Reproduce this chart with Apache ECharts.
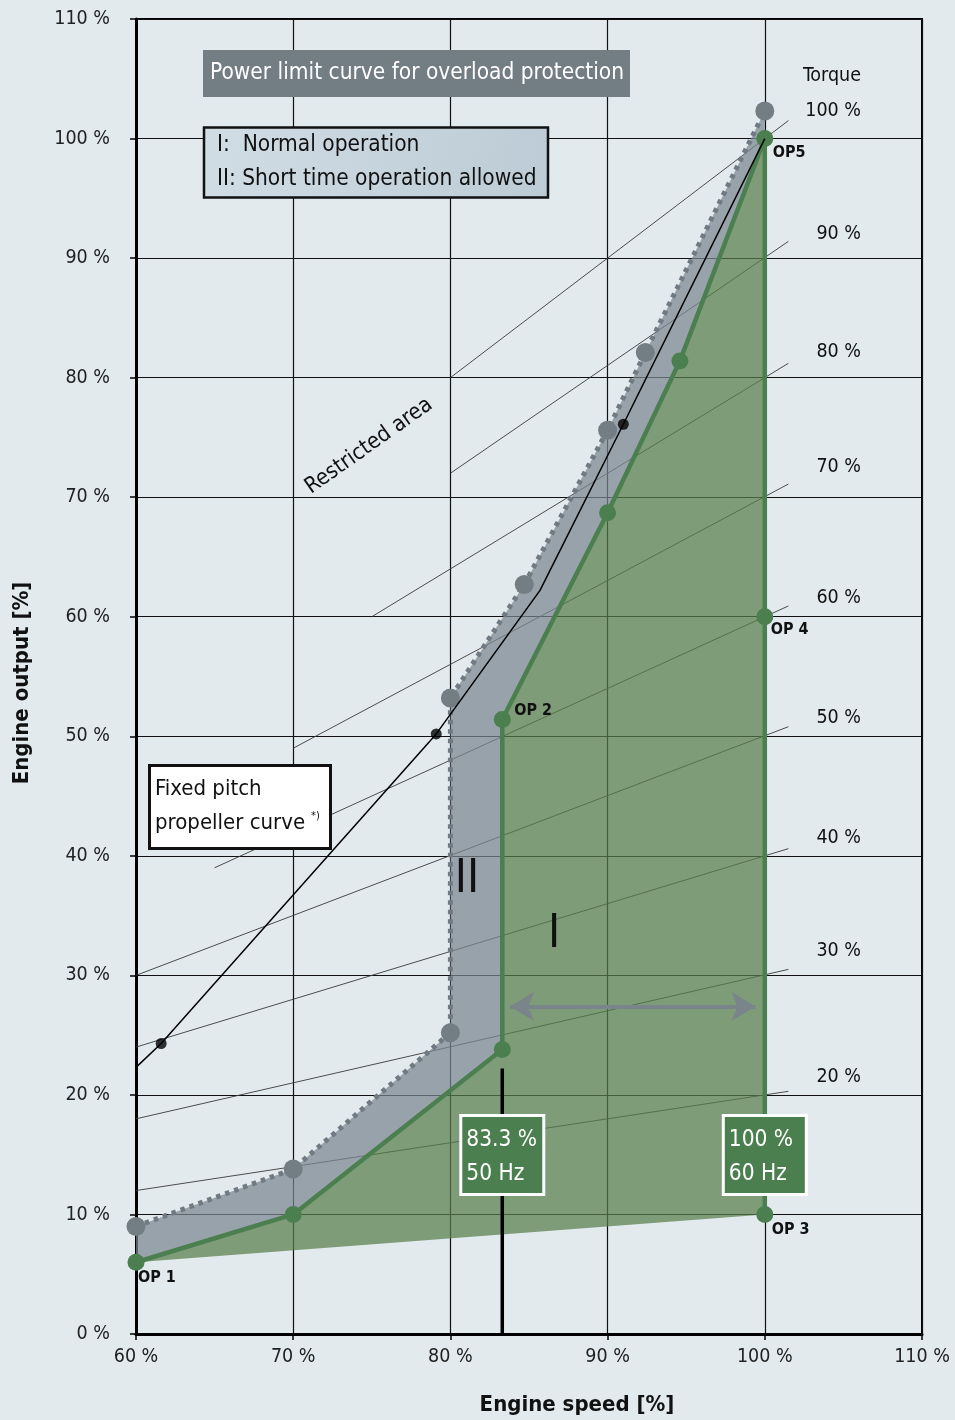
<!DOCTYPE html>
<html>
<head>
<meta charset="utf-8">
<script src="https://cdn.jsdelivr.net/npm/echarts@6/dist/echarts.min.js"></script>
<style>
  html, body { margin: 0; padding: 0; background: #e3eaee; }
  #chart { width: 955px; height: 1420px; }
</style>
</head>
<body>
<div id="chart"></div>
<script>
// ---- data: engine speed [%] vs. engine output [%] ----
const speedRange = [60, 110];
const outputRange = [0, 110];

// Area I (normal operation): OP1 -> ... -> OP5 -> OP4 -> OP3
const areaI = [[60, 6], [70, 10], [83.3, 23.8], [83.3, 51.4], [90, 68.7], [94.6, 81.4], [100, 100], [100, 60], [100, 10]];
// Upper limit of area II (short time operation)
const limitII = [[60, 9], [70, 13.8], [80, 25.2], [80, 53.2], [84.7, 62.7], [90, 75.6], [92.4, 82.1], [100, 102.3]];
// Fixed pitch propeller curve
const propellerCurve = [[60, 22.3], [61.6, 24.3], [79.1, 50.2], [85.7, 62.2], [91.0, 76.1], [100, 100]];
const propellerDots = [[61.6, 24.3], [79.1, 50.2], [91.0, 76.1]];
// 50 Hz speed marker below OP2
const speed50Hz = [[83.3, 0], [83.3, 22.2]];
// Speed range arrow between 50 Hz and 60 Hz
const speedArrow = [[83.8, 27.4], [99.4, 27.4]];
// Constant torque lines
const torqueLabels = ['100 %', '90 %', '80 %', '70 %', '60 %', '50 %', '40 %', '30 %', '20 %'];
const torqueLines = [
  [[80, 80], [101.5, 101.5]],
  [[80, 72], [101.5, 91.4]],
  [[75, 60], [101.5, 81.2]],
  [[70, 49], [101.5, 71.1]],
  [[65, 39], [101.5, 60.9]],
  [[60, 30], [101.5, 50.8]],
  [[60, 24], [101.5, 40.6]],
  [[60, 18], [101.5, 30.5]],
  [[60, 12], [101.5, 20.3]]
];
// Operating point names and the point they belong to
const opNames = ['OP 1', 'OP 2', 'OP 3', 'OP 4', 'OP5'];
const opPoints = [[60, 6], [83.3, 51.4], [100, 10], [100, 60], [100, 100]];
const speedBoxes = [['83.3 %', '50 Hz'], ['100 %', '60 Hz']];
const speedBoxAt = [83.3, 100];

// ---- styling ----
const FONT = "'DejaVu Sans Condensed', 'DejaVu Sans', sans-serif";
const GREEN = '#4b7f4f';
const GRAY = '#737d84';
const opLabelOffsets = [[2, 16], [12, -9], [7, 15], [6, 13], [8, 14]];
const torqueLabelLift = [10, 7, 11, 17, 8, 9, 11, 18, 14];

function polygonSeries(points, fill, z) {
  return {
    type: 'custom',
    coordinateSystem: 'cartesian2d',
    silent: true,
    z: z,
    data: [0],
    renderItem: function (params, api) {
      return {
        type: 'polygon',
        shape: { points: points.map(function (p) { return api.coord(p); }) },
        style: { fill: fill }
      };
    }
  };
}

const grayPolygon = limitII.concat([[100, 100]], areaI.slice(0, 6).reverse());

const axisCommon = {
  type: 'value',
  interval: 10,
  axisLine: { show: true, lineStyle: { color: '#000', width: 3 } },
  axisTick: { show: true, length: 6, lineStyle: { color: '#000', width: 1.5 } },
  splitLine: { show: true, lineStyle: { color: '#111', width: 1.2 } },
  axisLabel: {
    formatter: '{value} %',
    color: '#222',
    fontFamily: FONT,
    fontSize: 19.5
  }
};

const option = {
  backgroundColor: '#e3eaee',
  animation: false,
  grid: {
    left: 136, right: 33, top: 19, bottom: 86,
    show: true, borderColor: '#000', borderWidth: 2, backgroundColor: 'transparent'
  },
  xAxis: Object.assign({}, axisCommon, {
    min: speedRange[0], max: speedRange[1],
    axisLabel: Object.assign({}, axisCommon.axisLabel, { margin: 13 })
  }),
  yAxis: Object.assign({}, axisCommon, {
    min: outputRange[0], max: outputRange[1],
    axisLabel: Object.assign({}, axisCommon.axisLabel, { margin: 26 })
  }),
  series: [
    {
      type: 'lines',
      coordinateSystem: 'cartesian2d',
      silent: true,
      z: 1,
      lineStyle: { color: '#3a3a3a', width: 0.9, opacity: 1 },
      data: torqueLines.map(function (c) { return { coords: c }; })
    },
    polygonSeries(grayPolygon, 'rgba(123,135,144,0.72)', 2),
    polygonSeries(areaI, 'rgba(88,126,74,0.72)', 2),
    {
      type: 'line',
      data: limitII,
      silent: true,
      z: 3,
      lineStyle: { color: '#6f7a82', width: 5, type: [4.5, 5] },
      symbol: 'circle',
      symbolSize: 19,
      itemStyle: { color: GRAY }
    },
    {
      type: 'line',
      data: areaI,
      silent: true,
      z: 4,
      lineStyle: { color: GREEN, width: 4.5 },
      symbol: 'circle',
      symbolSize: 17,
      itemStyle: { color: GREEN }
    },
    {
      type: 'line',
      data: propellerCurve,
      silent: true,
      z: 5,
      symbol: 'none',
      lineStyle: { color: '#000', width: 1.5 }
    },
    {
      type: 'scatter',
      data: propellerDots,
      silent: true,
      z: 5,
      symbolSize: 11,
      itemStyle: { color: '#000' }
    },
    {
      type: 'line',
      data: speed50Hz,
      silent: true,
      z: 5,
      symbol: 'none',
      lineStyle: { color: '#000', width: 3.5 }
    },
    {
      type: 'line',
      data: [],
      silent: true,
      z: 6,
      markLine: {
        silent: true,
        symbol: ['arrow', 'arrow'],
        symbolSize: [22, 24],
        label: { show: false },
        lineStyle: { color: '#7a848b', width: 4, type: 'solid' },
        data: [[{ coord: speedArrow[0] }, { coord: speedArrow[1] }]]
      }
    }
  ]
};

const chart = echarts.init(document.getElementById('chart'));
chart.setOption(option);

function px(p) { return chart.convertToPixel({ gridIndex: 0 }, p); }
function txt(x, y, text, extra) {
  return {
    type: 'text', x: x, y: y, z: 100, silent: true,
    style: Object.assign({ text: text, fontFamily: FONT, fontSize: 22.5, fill: '#111', align: 'left', verticalAlign: 'middle' }, extra || {})
  };
}

const graphics = [];

// Title box
graphics.push({ type: 'rect', z: 99, silent: true, shape: { x: 203, y: 50, width: 427, height: 47 }, style: { fill: GRAY } });
graphics.push(txt(210, 73.5, 'Power limit curve for overload protection', { fill: '#fff' }));

// Legend box for areas I and II
graphics.push({
  type: 'rect', z: 99, silent: true,
  shape: { x: 204, y: 127.5, width: 344, height: 70 },
  style: {
    fill: new echarts.graphic.LinearGradient(0, 0, 1, 1, [
      { offset: 0, color: '#d1dde5' }, { offset: 1, color: '#bccbd5' }
    ]),
    stroke: '#111', lineWidth: 2.5
  }
});
graphics.push(txt(217, 145, 'I:  Normal operation'));
graphics.push(txt(217, 179, 'II: Short time operation allowed'));

// Propeller curve note
graphics.push({ type: 'rect', z: 99, silent: true, shape: { x: 149.5, y: 765.5, width: 181, height: 83 }, style: { fill: '#fff', stroke: '#111', lineWidth: 3 } });
graphics.push(txt(155, 789, 'Fixed pitch', { fontSize: 22 }));
graphics.push(txt(155, 823, 'propeller curve', { fontSize: 22 }));
graphics.push(txt(311, 816, '*)', { fontSize: 11 }));

// Restricted area
graphics.push(Object.assign(txt(369, 446, 'Restricted area', { align: 'center', fontSize: 22 }), { rotation: 35.3 * Math.PI / 180 }));

// Area numerals
graphics.push(txt(467, 880, 'II', { align: 'center', fontSize: 46, fontWeight: 200 }));
graphics.push(txt(554, 935, 'I', { align: 'center', fontSize: 46, fontWeight: 200 }));

// Speed boxes (50 Hz / 60 Hz)
speedBoxes.forEach(function (lines, i) {
  const cx = px([speedBoxAt[i], 0])[0];
  graphics.push({ type: 'rect', z: 99, silent: true, shape: { x: cx - 41.5, y: 1115.5, width: 83, height: 79 }, style: { fill: GREEN, stroke: '#fff', lineWidth: 3 } });
  graphics.push(txt(cx - 36, 1140, lines[0], { fill: '#fff' }));
  graphics.push(txt(cx - 36, 1174, lines[1], { fill: '#fff' }));
});

// Operating point names
opNames.forEach(function (name, i) {
  const p = px(opPoints[i]);
  graphics.push(txt(p[0] + opLabelOffsets[i][0], p[1] + opLabelOffsets[i][1], name, { fontSize: 16, fontWeight: 'bold' }));
});

// Torque labels at the right end of each constant torque line
graphics.push(txt(861, 76, 'Torque', { align: 'right', fontSize: 19.5 }));
torqueLines.forEach(function (line, i) {
  const p = px(line[1]);
  graphics.push(txt(861, p[1] - torqueLabelLift[i], torqueLabels[i], { align: 'right', fontSize: 19.5 }));
});

// Axis titles
graphics.push(txt(577, 1405, 'Engine speed [%]', { align: 'center', fontSize: 22, fontWeight: 'bold' }));
graphics.push(Object.assign(txt(22, 683, 'Engine output [%]', { align: 'center', fontSize: 22, fontWeight: 'bold' }), { rotation: Math.PI / 2 }));

chart.setOption({ graphic: graphics });
</script>
</body>
</html>
